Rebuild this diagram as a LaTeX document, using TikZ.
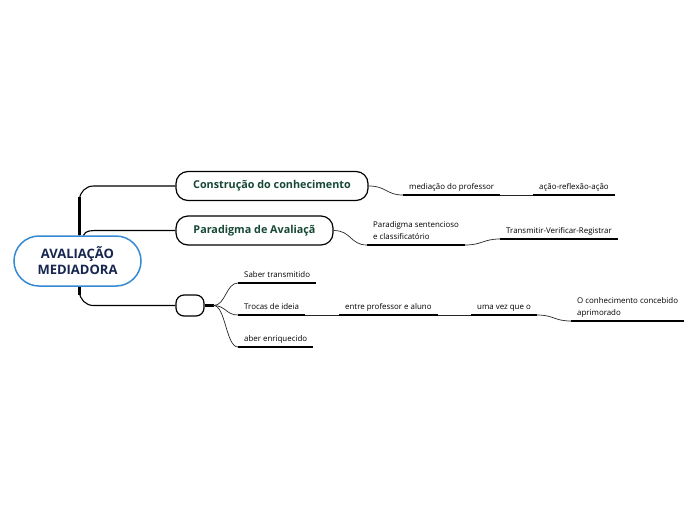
\documentclass[tikz,border=0pt]{standalone}
\usepackage{fontspec}
\setmainfont{Open Sans}
\usetikzlibrary{calc}
\definecolor{rootBlue}{RGB}{52,137,210}
\definecolor{rootText}{RGB}{22,38,78}
\definecolor{topicGreen}{RGB}{22,72,52}

\begin{document}
\begin{tikzpicture}[x=1pt, y=-1pt,
    root/.style={draw=rootBlue, line width=1.5pt, rounded corners=25pt, fill=white, minimum width=127pt, minimum height=50pt, font=\fontsize{13}{16}\selectfont\bfseries, text=rootText, align=center},
    topic/.style={draw, line width=1.2pt, rounded corners=12pt, minimum height=29pt, font=\fontsize{10.8}{12}\selectfont\bfseries, text=topicGreen},
    leaf/.style={anchor=south west, inner xsep=6pt, inner ysep=5pt, text depth=0pt, font=\fontsize{7.9}{12.5}\selectfont, align=left},
    uline/.style={line width=2.2pt},
    branch/.style={line width=1.1pt},
    link/.style={line width=0.7pt, black!85}]
    \useasboundingbox (0,0) rectangle (696,520);

    % Central topic and main branches
    \node[root] (c) at (77.5,261) {AVALIAÇÃO\\MEDIADORA};
    \node[topic, minimum width=192pt] (con) at (272,186) {Construção do conhecimento};
    \node[topic, minimum width=157pt] (para) at (254.5,230.5) {Paradigma de Avaliaçã};
    \node[topic, minimum width=28pt, minimum height=21pt, rounded corners=8pt] (blank) at (190,305.5) {};

    % Trunk
    \draw[branch, rounded corners=14pt] ($(c.north)+(2,0)$) |- (con.west);
    \draw[branch, rounded corners=14pt] ($(c.south)+(2,0)$) |- (blank.west);
    \draw[line width=2.6pt] ($(c.north)+(2,-38)$) -- ($(c.north)+(2,0)$);
    \draw[line width=2.6pt] ($(c.south)+(2,8)$) -- ($(c.south)+(2,0)$);
    \draw[branch] ($(c.north)+(6,0)$) .. controls ($(c.north)+(8,-5)$) and ($(para.west)+(-84,0)$) .. ($(para.west)+(-76,0)$) -- (para.west);

    % Leaves
    \node[leaf] (med) at (403,195) {mediação do professor};
    \node[leaf] (acao) at (533,195) {ação-reflexão-ação};
    \node[leaf] (sent) at (367,245) {Paradigma sentencioso\\e classificatório};
    \node[leaf] (trans) at (500,239) {Transmitir-Verificar-Registrar};
    \node[leaf] (saber) at (238,283) {Saber transmitido};
    \node[leaf] (trocas) at (238,315) {Trocas de ideia};
    \node[leaf] (aber) at (238,347) {aber enriquecido};
    \node[leaf] (entre) at (339,315) {entre professor e aluno};
    \node[leaf] (uma) at (471,315) {uma vez que o};
    \node[leaf] (oconh) at (571,321) {O conhecimento concebido\\aprimorado};

    \foreach \n in {med,acao,sent,trans,saber,trocas,aber,entre,uma,oconh}
        \draw[uline] (\n.south west) -- (\n.south east);

    % Connectors
    \draw[link] (con.east) .. controls +(18,0) and +(-17,0) .. (med.south west);
    \draw[link] (med.south east) -- (acao.south west);
    \draw[link] (para.east) .. controls +(18,0) and +(-17,0) .. (sent.south west);
    \draw[link] (sent.south east) .. controls +(17,0) and +(-17,0) .. (trans.south west);
    \draw[uline] (blank.east) -- ++(9,0) coordinate (fan);
    \draw[link] (fan) .. controls +(12,0) and +(-12,0) .. (saber.south west);
    \draw[link] (fan) .. controls +(12,0) and +(-12,0) .. (trocas.south west);
    \draw[link] (fan) .. controls +(12,0) and +(-12,0) .. (aber.south west);
    \draw[link] (trocas.south east) -- (entre.south west);
    \draw[link] (entre.south east) -- (uma.south west);
    \draw[link] (uma.south east) .. controls +(17,0) and +(-17,0) .. (oconh.south west);
\end{tikzpicture}
\end{document}
